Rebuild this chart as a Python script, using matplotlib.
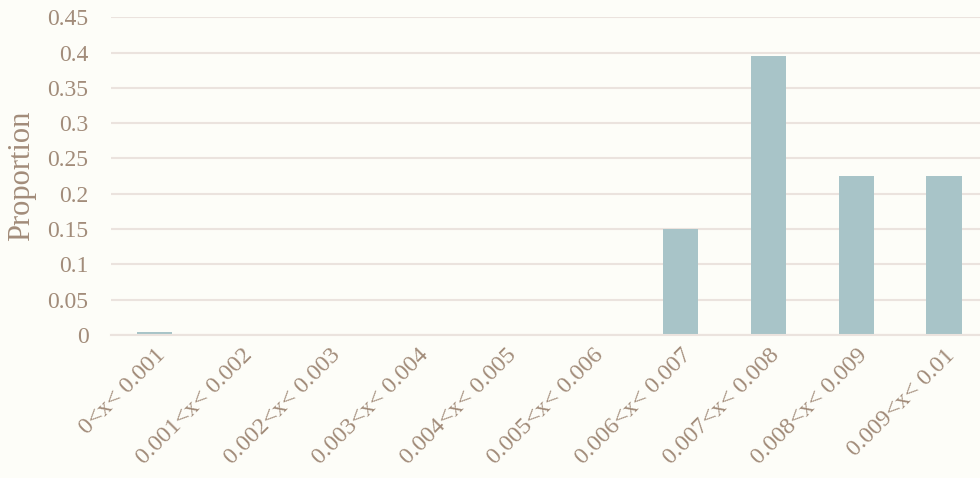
import numpy as np
import matplotlib
matplotlib.use("Agg")
import matplotlib.pyplot as plt

# Data
categories = ["0<x< 0.001", "0.001<x< 0.002", "0.002<x< 0.003", "0.003<x< 0.004",
              "0.004<x< 0.005", "0.005<x< 0.006", "0.006<x< 0.007", "0.007<x< 0.008",
              "0.008<x< 0.009", "0.009<x< 0.01"]
proportion = [0.005, 0, 0, 0, 0, 0, 0.15, 0.395, 0.225, 0.225]
yticks = [0, 0.05, 0.1, 0.15, 0.2, 0.25, 0.3, 0.35, 0.4, 0.45]
ytick_labels = ["0", "0.05", "0.1", "0.15", "0.2", "0.25", "0.3", "0.35", "0.4", "0.45"]

bg = "#fdfdf8"
text_col = "#a28c7a"
grid_col = "#ebe3de"
bar_col = "#a8c4c8"

plt.rcParams['font.family'] = ['Liberation Serif', 'DejaVu Serif']

fig = plt.figure(figsize=(9.8, 4.78), dpi=100, facecolor=bg)
ax = fig.add_axes([0.113, 0.299, 0.895, 0.665])
ax.set_facecolor(bg)

x = np.arange(len(categories))
ax.bar(x, proportion, width=0.4, color=bar_col, zorder=3)

ax.set_xlim(-0.5, len(categories) - 0.5)
ax.set_ylim(0, 0.45)
ax.set_yticks(yticks)
ax.set_yticklabels(ytick_labels)
ax.set_xticks(x)
ax.set_xticklabels(categories, rotation=45, ha='right', rotation_mode='anchor')

ax.grid(axis='y', color=grid_col, linewidth=1.5, zorder=0)
ax.set_axisbelow(True)
for s in ['top', 'right', 'left']:
    ax.spines[s].set_visible(False)
ax.spines['bottom'].set_color(grid_col)
ax.spines['bottom'].set_linewidth(1.5)
ax.spines['bottom'].set_zorder(4)
ax.tick_params(axis='both', length=0, labelcolor=text_col)
ax.tick_params(axis='y', pad=16, labelsize=17)
ax.tick_params(axis='x', pad=7, labelsize=17.5)

ax.set_ylabel("Proportion", fontsize=22, color=text_col)
ax.yaxis.set_label_coords(-0.085, 0.5)

fig.savefig("out.png", dpi=100, facecolor=bg)
plt.close()
